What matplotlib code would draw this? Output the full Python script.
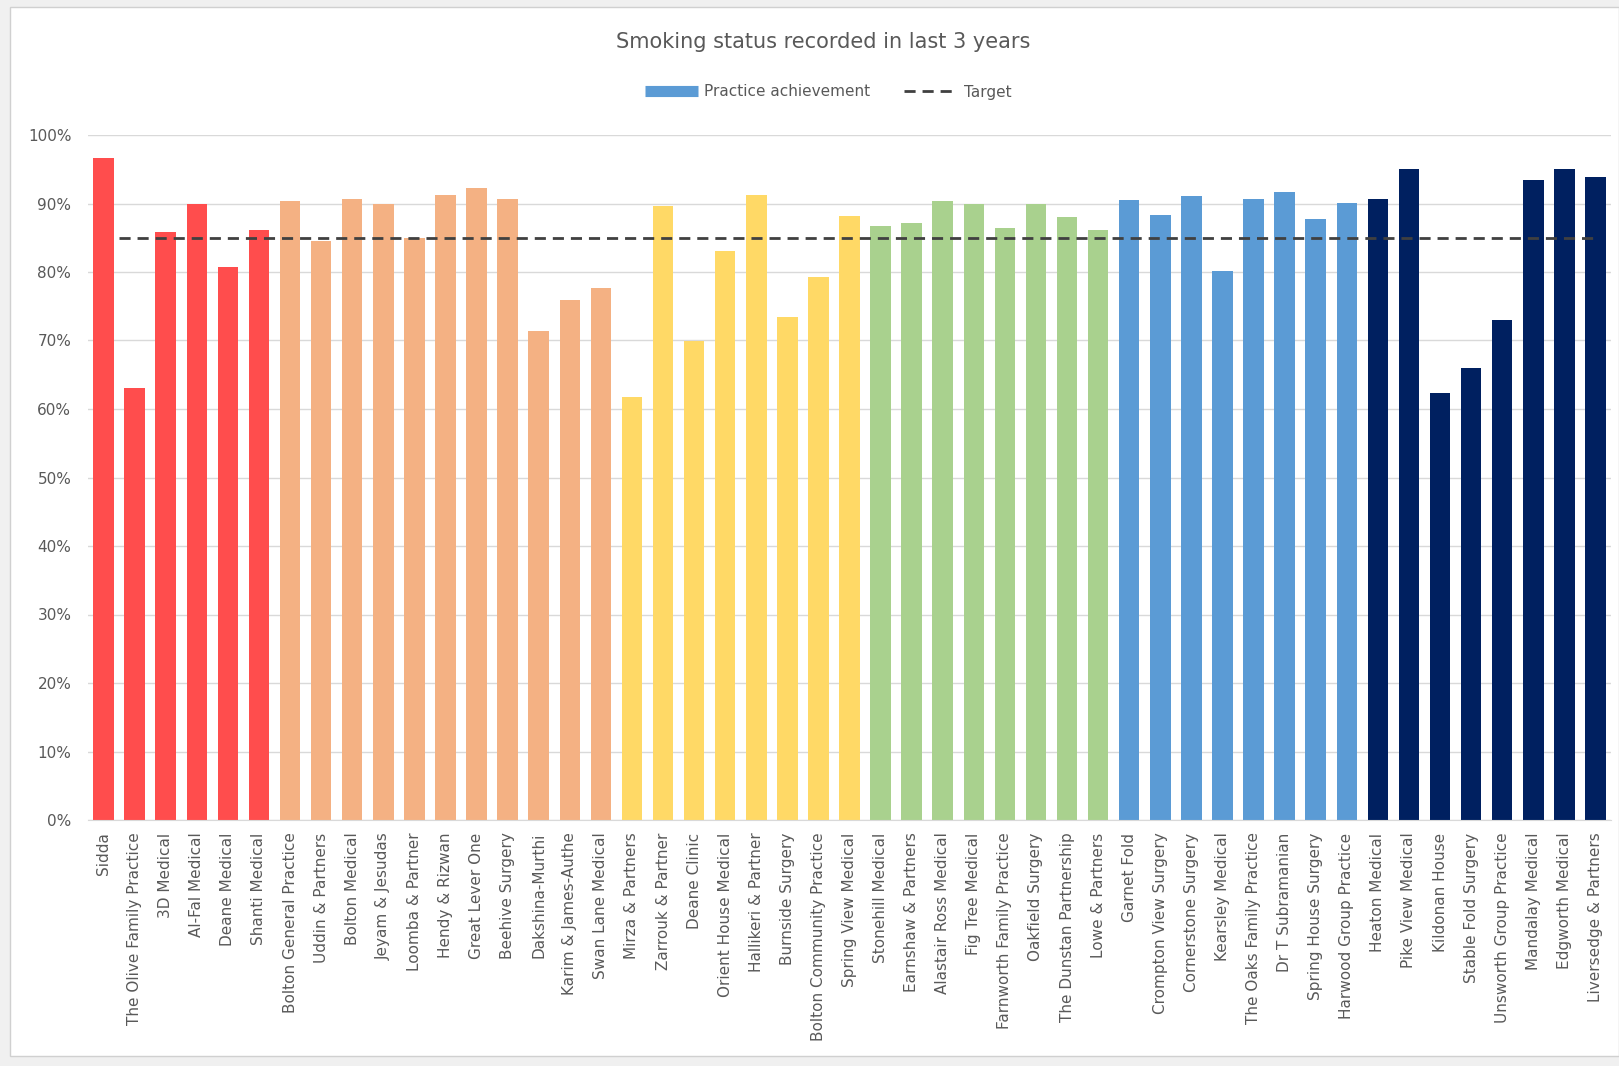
import numpy as np
import matplotlib
matplotlib.use("Agg")
import matplotlib.pyplot as plt
from matplotlib.lines import Line2D
from matplotlib.patches import Rectangle
from matplotlib.ticker import PercentFormatter

# ------------- data ---------------------------------
practices = [
    "Sidda", "The Olive Family Practice", "3D Medical", "Al-Fal Medical", "Deane Medical", "Shanti Medical",
    "Bolton General Practice", "Uddin & Partners", "Bolton Medical", "Jeyam & Jesudas", "Loomba & Partner",
    "Hendy & Rizwan", "Great Lever One", "Beehive Surgery", "Dakshina-Murthi", "Karim & James-Authe",
    "Swan Lane Medical",
    "Mirza & Partners", "Zarrouk & Partner", "Deane Clinic", "Orient House Medical", "Hallikeri & Partner",
    "Burnside Surgery", "Bolton Community Practice", "Spring View Medical",
    "Stonehill Medical", "Earnshaw & Partners", "Alastair Ross Medical", "Fig Tree Medical",
    "Farnworth Family Practice", "Oakfield Surgery", "The Dunstan Partnership", "Lowe & Partners",
    "Garnet Fold", "Crompton View Surgery", "Cornerstone Surgery", "Kearsley Medical",
    "The Oaks Family Practice", "Dr T Subramanian", "Spring House Surgery", "Harwood Group Practice",
    "Heaton Medical", "Pike View Medical", "Kildonan House", "Stable Fold Surgery",
    "Unsworth Group Practice", "Mandalay Medical", "Edgworth Medical", "Liversedge & Partners",
]
achievement = [
    96.6, 63.1, 85.9, 89.9, 80.7, 86.2,
    90.4, 84.5, 90.6, 90.0, 84.9, 91.3, 92.3, 90.6, 71.4, 75.9, 77.6,
    61.7, 89.6, 70.0, 83.1, 91.2, 73.4, 79.3, 88.2,
    86.7, 87.2, 90.4, 90.0, 86.4, 90.0, 88.1, 86.2,
    90.5, 88.3, 91.1, 80.1, 90.6, 91.7, 87.8, 90.1,
    90.6, 95.0, 62.3, 66.0, 73.0, 93.4, 95.0, 93.8,
]
group_sizes = [6, 11, 8, 8, 8, 8]  # practices per colour cluster
group_colors = ["#FF4D4D", "#F4B183", "#FFD966", "#A9D18E", "#5B9BD5", "#002060"]
target = 85.0

# ------------- figure --------------
W, H = 1619, 1066
fig = plt.figure(figsize=(W / 100, H / 100), dpi=100, facecolor="#F0F0F0")
# white chart area with a thin grey frame, behind everything
fig.patches.append(Rectangle((10 / W, 1 - 1056 / H), 1 - 10 / W, (1056 - 7) / H,
                             transform=fig.transFigure, facecolor="white",
                             edgecolor="#D0D0D0", lw=1, zorder=-10))

ax = fig.add_axes([88 / W, 1 - 820 / H, (1611 - 88) / W, (820 - 135) / H])
ax.set_facecolor("none")

x = np.arange(len(practices))
colors = np.repeat(group_colors, group_sizes)
vals = np.array(achievement) / 100
ax.bar(x, vals, width=0.66, color=colors, zorder=2)
ax.hlines(target / 100, 0.5, len(practices) - 1, colors="#404040", lw=2,
          linestyles=(0, (4, 2.5)), zorder=3)

ax.set_xlim(-0.5, len(practices) - 0.5)
ax.set_ylim(0, 1)
ax.set_yticks(np.arange(0, 1.01, 0.1))
ax.yaxis.set_major_formatter(PercentFormatter(1.0, decimals=0))
ax.grid(axis="y", color="#D9D9D9", lw=1, zorder=0)
ax.set_axisbelow(True)
for s in ["top", "right", "left"]:
    ax.spines[s].set_visible(False)
ax.spines["bottom"].set_color("#D9D9D9")

ax.set_xticks(x)
ax.set_xticklabels(practices, rotation=90, fontsize=11, color="#595959")
ax.tick_params(axis="x", length=0, pad=9)
ax.tick_params(axis="y", length=0, pad=12, labelsize=11, labelcolor="#595959")

fig.text(823 / W, 1 - 42 / H, "Smoking status recorded in last 3 years", ha="center", va="center",
         fontsize=15, color="#595959")

handles = [Line2D([], [], color="#5B9BD5", lw=8, solid_capstyle="butt"),
           Line2D([], [], color="#404040", lw=2, linestyle=(0, (4, 2.5)))]
fig.legend(handles, ["Practice achievement", "Target"], loc="center", ncol=2,
           bbox_to_anchor=(828 / W, 1 - 92 / H), frameon=False, handlelength=3.5,
           columnspacing=2.2, handletextpad=0.4, prop={"size": 11},
           labelcolor="#595959")

fig.savefig("out.png", dpi=100, facecolor=fig.get_facecolor())
